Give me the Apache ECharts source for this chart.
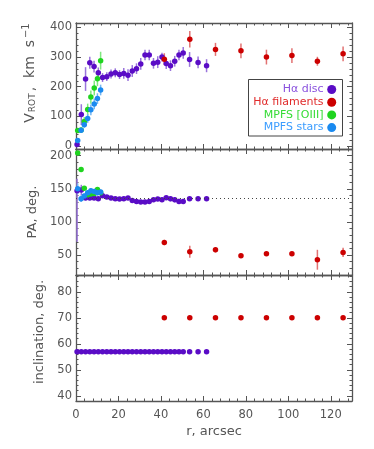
<!DOCTYPE html>
<html>
<head>
<meta charset="utf-8">
<script src="https://cdn.jsdelivr.net/npm/echarts@6/dist/echarts.min.js"></script>
<style>
  html, body { margin: 0; padding: 0; background: #fff; }
  #main { width: 374px; height: 449px; }
</style>
</head>
<body>
<div id="main"></div>
<script>
// H-alpha disc
var discR = [0.5, 2.5, 4.5, 6.5, 8.5, 10.5, 12.5, 14.5, 16.5, 18.5, 20.5, 22.5, 24.5, 26.5, 28.5,
             30.5, 32.5, 34.5, 36.5, 38.5, 40.5, 42.5, 44.5, 46.5, 48.5, 50.5, 53.5, 57.5, 61.5];
var discV = [5, 106, 226, 281, 268, 247, 231, 234, 243, 247, 241, 245, 239, 253, 261,
             277, 307, 307, 279, 283, 300, 278, 271, 286, 307, 314, 292, 282, 271];
var discVErr = [8, 35, 40, 20, 20, 18, 15, 15, 15, 15, 15, 18, 20, 20, 18,
                20, 18, 18, 18, 20, 15, 18, 18, 18, 18, 20, 25, 20, 22];
var discPA = [147, 148, 136, 136, 136, 135, 139.5, 137.5, 136, 135, 134.5, 135, 136, 132.5, 131,
              130, 130, 131, 133.5, 134.5, 133.5, 136.5, 135, 133.5, 131, 131, 135, 135, 135];
var discPAErrLo = [77, 8, 3, 3, 3, 3, 3, 3, 3, 3, 3, 3, 3, 3, 3, 3, 3, 3, 3, 3, 3, 3, 4, 4, 4, 4, 2, 2, 2];
var discPAErrHi = [18, 8, 3, 3, 3, 3, 3, 3, 3, 3, 3, 3, 3, 3, 3, 3, 3, 3, 3, 3, 3, 3, 4, 4, 4, 4, 2, 2, 2];
var discInc = [57, 57, 57, 57, 57, 57, 57, 57, 57, 57, 57, 57, 57, 57, 57,
               57, 57, 57, 57, 57, 57, 57, 57, 57, 57, 57, 57, 57, 57];

// H-alpha filaments
var filR = [41.6, 53.6, 65.7, 77.7, 89.7, 101.7, 113.7, 125.8];
var filV = [293, 360, 326, 321, 300, 305, 286, 311];
var filVErr = [20, 28, 22, 25, 25, 25, 15, 25];
var filPA = [69, 55, 58, 49, 52, 52, 43, 54];
var filPAErr = [4, 9, 4, 3, 3, 3, 15, 7];
var filInc = [70, 70, 70, 70, 70, 70, 70, 70];

// MPFS [OIII]
var oiiiR = [0.8, 2.4, 3.9, 5.5, 7.0, 8.6, 10.1, 11.6];
var oiiiV = [52, 54, 83, 123, 165, 196, 227, 288];
var oiiiVErr = [5, 8, 15, 20, 22, 25, 25, 30];
var oiiiPA = [204, 179, 151, 141, 142, 143, 149, 144];
var oiiiPAErr = [3, 3, 3, 3, 3, 3, 3, 3];

// MPFS stars
var starR = [0.8, 2.4, 3.9, 5.5, 7.0, 8.6, 10.1, 11.6];
var starV = [19, 53, 72, 93, 122, 142, 160, 189];
var starVErr = [6, 8, 10, 15, 18, 18, 18, 18];
var starPA = [150, 135, 139, 144, 147, 146, 144, 145];
var starPAErr = [8, 5, 4, 4, 4, 4, 4, 4];

var paRef = 135;

var names = ['Hα disc', 'Hα filaments', 'MPFS [OIII]', 'MPFS stars'];
var dotColors = ['#5a0cc6', '#cc0000', '#1fd41f', '#1a8af0'];
var barColors = ['#9a74dc', '#e27272', '#7fe87f', '#72b6f2'];
var textColors = ['#8a52de', '#e02a2a', '#36dc36', '#3a9cff'];

var AX = '#555';
var LBL = '#555';
var FONT = 'DejaVu Sans';

function pts(xs, ys) {
  return xs.map(function (x, i) { return [x, ys[i]]; });
}
function bars(xs, ys, lo, hi) {
  return xs.map(function (x, i) { return [x, ys[i] - lo[i], ys[i] + hi[i]]; });
}

function errRender(params, api) {
  var x = api.value(0);
  var a = api.coord([x, api.value(1)]);
  var b = api.coord([x, api.value(2)]);
  return {
    type: 'line',
    shape: { x1: a[0], y1: a[1], x2: b[0], y2: b[1] },
    style: { stroke: api.visual('color'), lineWidth: 1.5 }
  };
}

var grids = [
  { left: 76, width: 276, top: 23, height: 126 },
  { left: 76, width: 276, top: 149, height: 126 },
  { left: 76, width: 276, top: 275, height: 126 }
];

function xAx(gi, pos, labels) {
  return {
    type: 'value', gridIndex: gi, position: pos, min: 0, max: 130, interval: 20,
    axisLine: { show: true, onZero: false, lineStyle: { color: AX, width: 1.3 } },
    axisTick: { show: true, inside: true, length: 5, lineStyle: { color: AX } },
    minorTick: { show: true, splitNumber: 5, length: 2.5, lineStyle: { color: AX } },
    splitLine: { show: false },
    axisLabel: { show: labels, showMaxLabel: false, margin: 8, color: LBL, fontSize: 11.5,
                 fontFamily: FONT },
    name: labels ? 'r, arcsec' : '',
    nameLocation: 'middle', nameGap: 24,
    nameTextStyle: { color: LBL, fontSize: 13, fontFamily: FONT }
  };
}

function yAx(gi, pos, min, max, split, name, gap, pad, rich) {
  var a = {
    type: 'value', gridIndex: gi, position: pos, min: min, max: max, splitNumber: split,
    axisLine: { show: true, onZero: false, lineStyle: { color: AX, width: 1.3 } },
    axisTick: { show: true, inside: true, length: 5, lineStyle: { color: AX } },
    minorTick: { show: true, splitNumber: 5, length: 2.5, lineStyle: { color: AX } },
    splitLine: { show: false },
    axisLabel: { show: pos === 'left', showMinLabel: false, showMaxLabel: false, margin: 4,
                 color: LBL, fontSize: 11.5, fontFamily: FONT },
    name: pos === 'left' ? name : '',
    nameLocation: 'middle', nameGap: gap,
    nameTextStyle: { color: LBL, fontSize: 13, fontFamily: FONT, padding: pad }
  };
  if (rich) a.nameTextStyle.rich = rich;
  return a;
}

var vRich = {
  b: { fontSize: 14, color: LBL, fontFamily: FONT, lineHeight: 18, verticalAlign: 'middle' },
  s: { fontSize: 9, color: LBL, fontFamily: FONT, lineHeight: 18, verticalAlign: 'bottom', padding: [0, 2, 2, 1] },
  p: { fontSize: 10, color: LBL, fontFamily: FONT, lineHeight: 18, verticalAlign: 'top', padding: [0, 0, 0, 2] }
};

var series = [];
function addGroup(idx, xs, ys, lo, hi, grid, withBars) {
  if (withBars) {
    series.push({
      type: 'custom', name: names[idx] + ' err', xAxisIndex: grid * 2, yAxisIndex: grid,
      renderItem: errRender, encode: { x: 0, y: [1, 2] }, clip: true,
      itemStyle: { color: barColors[idx] }, silent: true, z: 2,
      data: bars(xs, ys, lo, hi)
    });
  }
  series.push({
    type: 'scatter', name: names[idx], xAxisIndex: grid * 2, yAxisIndex: grid,
    symbol: 'circle', symbolSize: 5.5, clip: true,
    itemStyle: { color: dotColors[idx], opacity: 1 }, z: 3 + idx,
    data: pts(xs, ys)
  });
}

// top: rotation velocity
addGroup(0, discR, discV, discVErr, discVErr, 0, true);
addGroup(1, filR, filV, filVErr, filVErr, 0, true);
addGroup(2, oiiiR, oiiiV, oiiiVErr, oiiiVErr, 0, true);
addGroup(3, starR, starV, starVErr, starVErr, 0, true);
// middle: position angle
addGroup(0, discR, discPA, discPAErrLo, discPAErrHi, 1, true);
addGroup(1, filR, filPA, filPAErr, filPAErr, 1, true);
addGroup(2, oiiiR, oiiiPA, oiiiPAErr, oiiiPAErr, 1, true);
addGroup(3, starR, starPA, starPAErr, starPAErr, 1, true);
// bottom: inclination
addGroup(0, discR, discInc, null, null, 2, false);
addGroup(1, filR, filInc, null, null, 2, false);

// dotted reference PA line
series.push({
  type: 'line', name: 'PA ref', xAxisIndex: 2, yAxisIndex: 1, data: [], silent: true,
  markLine: {
    silent: true, symbol: 'none', label: { show: false },
    lineStyle: { color: '#444', type: [1, 3], width: 1 },
    data: [{ yAxis: paRef }]
  }
});

// legend box (right-aligned labels, dot on the right)
var legendItems = [
  { type: 'rect', shape: { x: 248.5, y: 79.5, width: 94, height: 56.5 },
    style: { fill: '#fff', stroke: '#444', lineWidth: 1 } }
];
names.forEach(function (n, i) {
  var y = 89.5 + i * 12.7;
  legendItems.push({
    type: 'text', x: 323.5, y: y,
    style: { text: n, fill: textColors[i], fontSize: 11, fontFamily: FONT,
             align: 'right', verticalAlign: 'middle' }
  });
  legendItems.push({
    type: 'circle', shape: { cx: 331.7, cy: y, r: 4.5 }, style: { fill: dotColors[i] }
  });
});

var option = {
  animation: false,
  backgroundColor: '#fff',
  grid: grids,
  xAxis: [xAx(0, 'bottom', false), xAx(0, 'top', false),
          xAx(1, 'bottom', false), xAx(1, 'top', false),
          xAx(2, 'bottom', true), xAx(2, 'top', false)],
  yAxis: [yAx(0, 'left', -10, 415, 4, '{b|V}{s|ROT}{b|,  km  s}{p|−1}', 36, [0, 0, 0, 26], vRich),
          yAx(1, 'left', 20, 210, 4, 'PA, deg.', 36, 0),
          yAx(2, 'left', 38, 86.5, 5, 'inclination, deg.', 26, [0, 0, 0, 12]),
          yAx(0, 'right', -10, 415, 4), yAx(1, 'right', 20, 210, 4), yAx(2, 'right', 38, 86.5, 5)],
  series: series,
  graphic: [{ type: 'group', z: 10, children: legendItems }]
};

var chart = echarts.init(document.getElementById('main'), null, { renderer: 'canvas' });
chart.setOption(option);
</script>
</body>
</html>
